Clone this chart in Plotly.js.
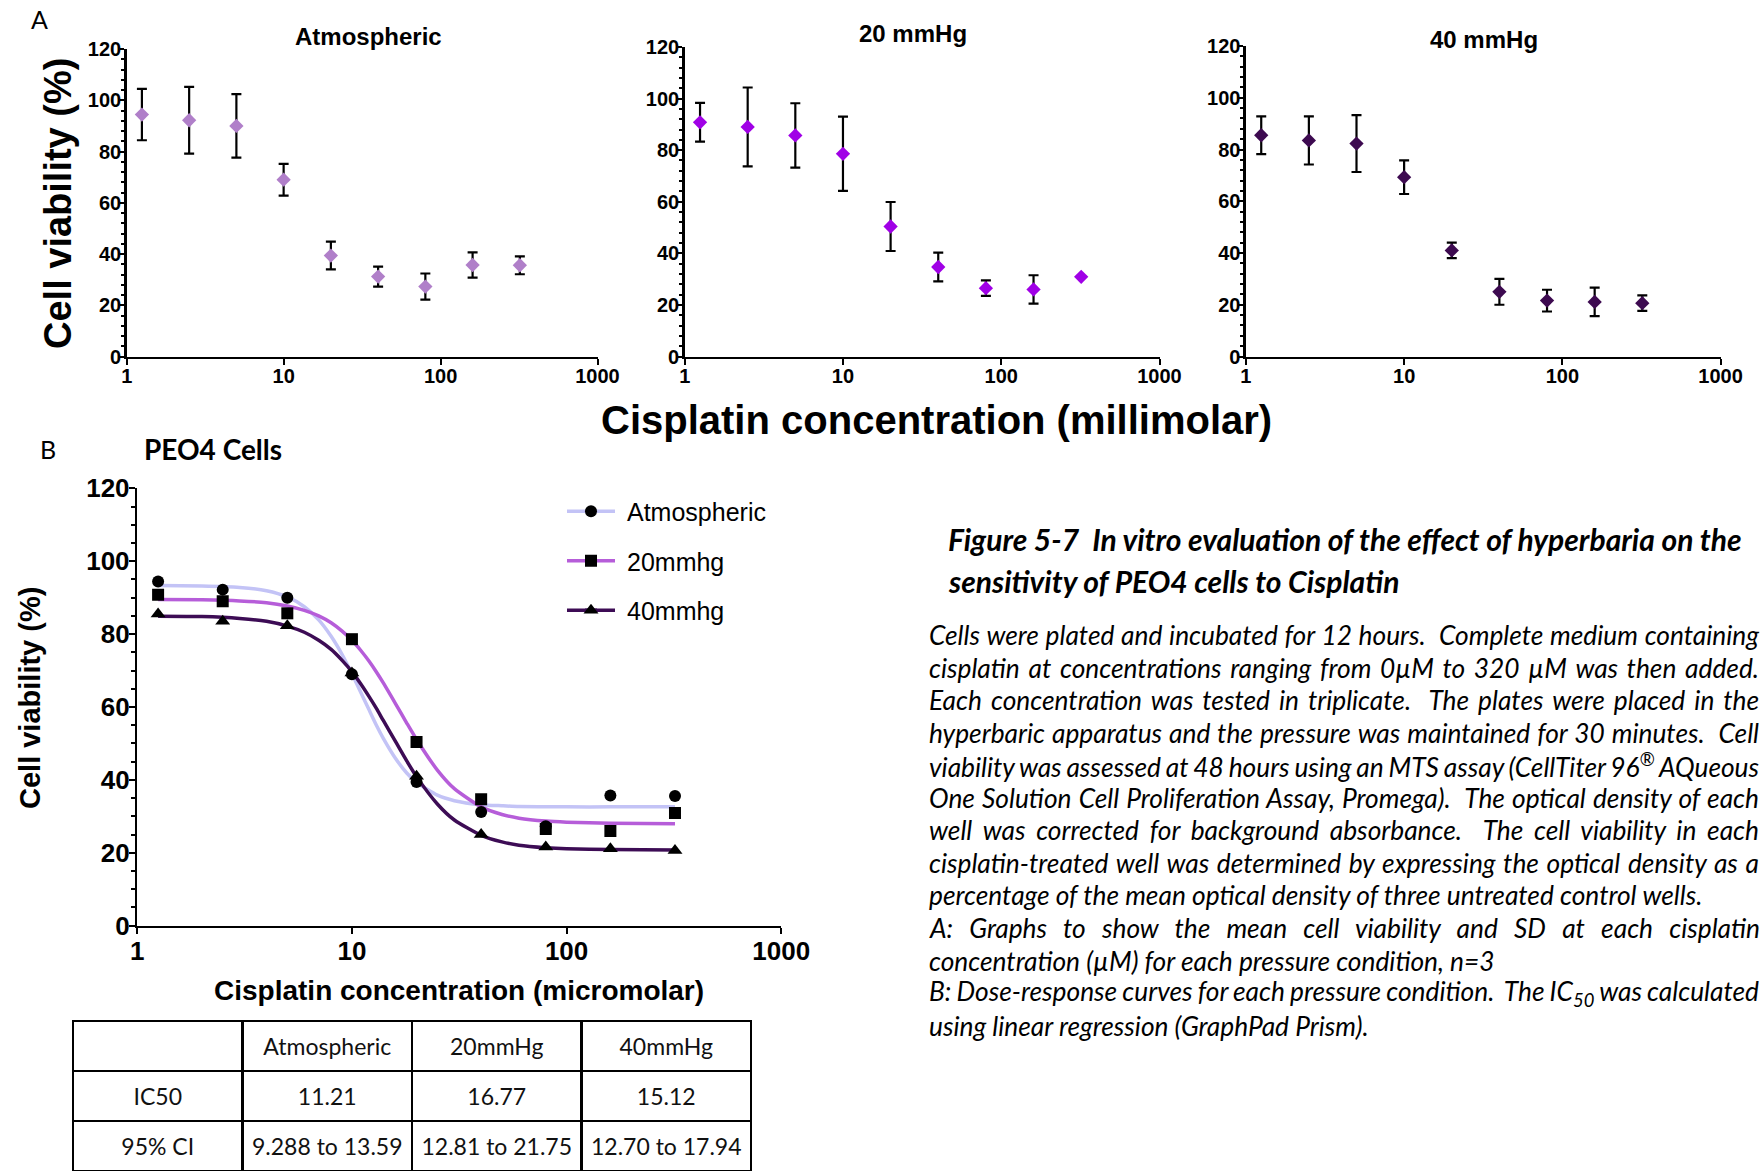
<!DOCTYPE html>
<html><head><meta charset="utf-8">
<script src="https://cdn.plot.ly/plotly-3.0.1.min.js"></script>
<style>html,body{margin:0;padding:0;background:#fff;} #chart{width:1760px;height:1172px;}
#chart text.cell-text{transform:translateY(9px);}</style>
</head><body><div id="chart"></div>
<script>
// ---------- data ----------
const conc = [1.25, 2.5, 5, 10, 20, 40, 80, 160, 320];
const atmMean = [94.4, 92.2, 90.0, 69.0, 39.4, 31.2, 27.3, 35.7, 35.6];
const atmSD   = [10.0, 13.0, 12.4, 6.2, 5.4, 3.9, 5.1, 4.9, 3.5];
const mm20Mean = [90.8, 89.0, 85.7, 78.6, 50.4, 34.7, 26.5, 26.0, 30.9];
const mm20SD   = [7.5, 15.3, 12.5, 14.4, 9.5, 5.6, 3.0, 5.5, null];
const mm40Mean = [85.5, 83.5, 82.3, 69.3, 41.0, 25.0, 21.6, 21.1, 20.6];
const mm40SD   = [7.3, 9.3, 11.0, 6.5, 3.0, 5.0, 4.2, 5.5, 3.0];

// fitted dose-response curves
const curveX = [1.25, 2, 3, 4, 5, 6, 7, 8, 9, 10, 11, 12, 13, 14, 16, 18, 20, 25, 30, 40, 50, 60, 80, 100, 160, 320];
const atmCurve  = [93.3, 93.2, 92.8, 91.9, 90.2, 87.5, 83.9, 79.4, 74.4, 69.1, 64.0, 59.3, 55.0, 51.4, 45.8, 41.9, 39.3, 35.8, 34.3, 33.2, 32.9, 32.7, 32.65, 32.6, 32.6, 32.6];
const mm20Curve = [89.5, 89.4, 89.1, 88.6, 87.7, 86.5, 85.0, 83.1, 80.8, 78.3, 75.5, 72.6, 69.6, 66.6, 60.8, 55.6, 51.1, 42.7, 37.6, 32.6, 30.5, 29.5, 28.7, 28.4, 28.1, 28.0];
const mm40Curve = [84.9, 84.8, 84.3, 83.5, 82.2, 80.5, 78.3, 75.8, 72.8, 69.7, 66.3, 62.9, 59.6, 56.3, 50.4, 45.2, 40.9, 33.4, 29.0, 24.8, 23.0, 22.1, 21.4, 21.1, 20.9, 20.8];

const panelTitles = ['Atmospheric', '20 mmHg', '40 mmHg'];
const seriesNames = ['Atmospheric', '20mmhg', '40mmhg'];
const xTickVals = [1, 10, 100, 1000];
const xTickText = ['1', '10', '100', '1000'];

const tableHeader = ['', 'Atmospheric', '20mmHg', '40mmHg'];
const tableRowLabels = ['IC50', '95%\u00a0CI'];
const ic50 = ['11.21', '16.77', '15.12'];
const ci95 = ['9.288\u00a0to\u00a013.59', '12.81\u00a0to\u00a021.75', '12.70\u00a0to\u00a017.94'];

const captionTitle = [
  'Figure 5-7  In vitro evaluation of the effect of hyperbaria on the',
  'sensitivity of PEO4 cells to Cisplatin'
];
const captionBody = [
  'Cells were plated and incubated for 12 hours.  Complete medium containing',
  'cisplatin at concentrations ranging from 0µM to 320 µM was then added.',
  'Each concentration was tested in triplicate.  The plates were placed in the',
  'hyperbaric apparatus and the pressure was maintained for 30 minutes.  Cell',
  'viability was assessed at 48 hours using an MTS assay (CellTiter 96<sup>®</sup> AQueous',
  'One Solution Cell Proliferation Assay, Promega).  The optical density of each',
  'well was corrected for background absorbance.  The cell viability in each',
  'cisplatin-treated well was determined by expressing the optical density as a',
  'percentage of the mean optical density of three untreated control wells.',
  'A: Graphs to show the mean cell viability and SD at each cisplatin',
  'concentration (µM) for each pressure condition, n=3',
  'B: Dose-response curves for each pressure condition.  The IC<sub>50</sub> was calculated',
  'using linear regression (GraphPad Prism).'
];
const justified = [true, true, true, true, true, true, true, true, false, true, false, true, false];

// ---------- styling ----------
const W = 1760, H = 1172;
const ARIAL = "'Liberation Sans', Arial, sans-serif";
const CAL = "Lato, 'Open Sans', sans-serif";
const markerColorsA = ['#b07fc9', '#a000e6', '#3d0a50'];
const curveColors = ['#c3c3f6', '#b65dd9', '#3d0c55'];
const CLEAR = 'rgba(0,0,0,0)';
const px = v => v / W;
const py = v => 1 - v / H;

function xAx(l, r, anchor, fs, so) {
  return {domain: [px(l), px(r)], anchor: anchor, type: 'log', range: [0, 3],
    tickmode: 'array', tickvals: xTickVals, ticktext: xTickText,
    ticks: 'outside', ticklen: 6, tickwidth: 2, tickcolor: 'black', ticklabelstandoff: so,
    showline: true, linecolor: 'black', linewidth: 2.5, showgrid: false, zeroline: false,
    tickfont: {family: ARIAL, size: fs, color: 'black', weight: 'bold'}, fixedrange: true};
}
function yAx(t, b, anchor, fs, minorD, tl, mtl, so) {
  return {domain: [py(b), py(t)], anchor: anchor, range: [0, 120], tick0: 0, dtick: 20,
    ticks: 'outside', ticklen: tl, tickwidth: 2, tickcolor: 'black', ticklabelstandoff: so,
    minor: {dtick: minorD, ticks: 'outside', ticklen: mtl, tickwidth: 2, tickcolor: 'black', showgrid: false},
    showline: true, linecolor: 'black', linewidth: 2.5, showgrid: false, zeroline: false,
    tickfont: {family: ARIAL, size: fs, color: 'black', weight: 'bold'}, fixedrange: true};
}

const meansA = [atmMean, mm20Mean, mm40Mean];
const sdsA = [atmSD, mm20SD, mm40SD];
const traces = [];
['', '2', '3'].forEach((s, i) => {
  traces.push({x: conc, y: meansA[i], xaxis: 'x' + s, yaxis: 'y' + s, type: 'scatter', mode: 'markers',
    marker: {symbol: 'diamond', size: 11, color: markerColorsA[i]},
    error_y: {type: 'data', array: sdsA[i], visible: true, color: 'black', thickness: 2.2, width: 5},
    showlegend: false, hoverinfo: 'skip'});
});
const curvesB = [atmCurve, mm20Curve, mm40Curve];
curvesB.forEach((c, i) => {
  traces.push({x: curveX, y: c, xaxis: 'x4', yaxis: 'y4', type: 'scatter', mode: 'lines',
    line: {color: curveColors[i], width: 3.5, shape: 'spline', smoothing: 0.6},
    name: seriesNames[i], legend: 'legend', legendgroup: 'g' + i, hoverinfo: 'skip'});
});
// legend helpers: extra line segment (to lengthen legend lines) and visible legend labels
curveColors.forEach((col, i) => {
  traces.push({x: [null], y: [null], xaxis: 'x4', yaxis: 'y4', type: 'scatter', mode: 'lines',
    line: {color: col, width: 3.5}, name: seriesNames[i], legend: 'legend3', legendgroup: 'k' + i, hoverinfo: 'skip'});
});
seriesNames.forEach((n, i) => {
  traces.push({x: [null], y: [null], xaxis: 'x4', yaxis: 'y4', type: 'scatter', mode: 'lines',
    line: {color: CLEAR, width: 1}, name: n, legend: 'legend4', legendgroup: 'm' + i, hoverinfo: 'skip'});
});
const symbolsB = ['circle', 'square', 'triangle-up'];
const sizesB = [12, 12, 13];
meansA.forEach((m, i) => {
  traces.push({x: conc, y: m, xaxis: 'x4', yaxis: 'y4', type: 'scatter', mode: 'markers',
    marker: {symbol: symbolsB[i], size: sizesB[i], color: 'black'},
    name: seriesNames[i], legend: 'legend2', legendgroup: 'h' + i, hoverinfo: 'skip'});
});
traces.push({type: 'table', domain: {x: [px(73), px(751)], y: [0, py(1021)]},
  columnwidth: [1, 1, 1, 1],
  header: {values: tableHeader.map(v => [v]), height: 50, align: 'center',
    line: {color: 'black', width: 2.5}, fill: {color: 'white'},
    font: {family: CAL, size: 23, color: '#111'}},
  cells: {values: [tableRowLabels, [ic50[0], ci95[0]], [ic50[1], ci95[1]], [ic50[2], ci95[2]]],
    height: 50, align: 'center', line: {color: 'black', width: 2.5}, fill: {color: 'white'},
    font: {family: CAL, size: 23, color: '#111'}}});

const ann = [];
function A(text, x, y, opts) {
  ann.push(Object.assign({text: text, x: px(x), y: py(y), xref: 'paper', yref: 'paper',
    showarrow: false, xanchor: 'center', yanchor: 'middle'}, opts));
}
A('A', 39, 19, {font: {family: CAL, size: 25, color: 'black'}});
A('B', 48, 449, {font: {family: CAL, size: 25, color: 'black'}});
A('PEO4 Cells', 142, 449, {xanchor: 'left', font: {family: CAL, size: 28, color: 'black', weight: 'bold'}});
A(panelTitles[0], 368, 37, {font: {family: ARIAL, size: 24, color: 'black', weight: 'bold'}});
A(panelTitles[1], 913, 33, {font: {family: ARIAL, size: 24, color: 'black', weight: 'bold'}});
A(panelTitles[2], 1484, 40, {font: {family: ARIAL, size: 24, color: 'black', weight: 'bold'}});
A('Cell viability (%)', 58, 204, {textangle: -90, font: {family: ARIAL, size: 38, color: 'black', weight: 'bold'}});
A('Cisplatin concentration (millimolar)', 937, 420, {font: {family: ARIAL, size: 40, color: 'black', weight: 'bold'}});
A('Cisplatin concentration (micromolar)', 459, 990, {font: {family: ARIAL, size: 28, color: 'black', weight: 'bold'}});
A('Cell viability (%)', 30, 698, {textangle: -90, font: {family: ARIAL, size: 29, color: 'black', weight: 'bold'}});
captionTitle.forEach((t, i) => A(t, 946, 539 + i * 41.5, {xanchor: 'left', align: 'left',
  font: {family: CAL, size: 30, color: 'black', weight: 'bold', style: 'italic'}}));
const bodyStart = ann.length;
captionBody.forEach((t, i) => A(t, 927, 635 + i * 32.55, {xanchor: 'left', align: 'left',
  font: {family: CAL, size: 26.3, color: 'black', style: 'italic'}}));

function leg(xl, color) {
  return {x: px(xl), y: py(488.5), xanchor: 'left', yanchor: 'top', bgcolor: CLEAR,
    font: {family: ARIAL, size: 25, color: color}, tracegroupgap: 14, traceorder: 'grouped'};
}
const layout = {
  width: W, height: H, margin: {l: 0, r: 0, t: 0, b: 0}, paper_bgcolor: 'white', plot_bgcolor: 'white',
  showlegend: true,
  xaxis: xAx(126.7, 597.5, 'y', 20, -6), yaxis: yAx(49, 356.5, 'x', 20, 4, 4, 3, -5),
  xaxis2: xAx(684.7, 1159.5, 'y2', 20, -6), yaxis2: yAx(47, 356.5, 'x2', 20, 4, 4, 3, -5),
  xaxis3: xAx(1245.9, 1720.6, 'y3', 20, -6), yaxis3: yAx(46, 356.5, 'x3', 20, 4, 4, 3, -5),
  xaxis4: xAx(137.3, 781.2, 'y4', 26, -5), yaxis4: yAx(488.3, 925.7, 'x4', 26, 5, 6, 4, -6),
  legend: leg(580, CLEAR),
  legend2: Object.assign(leg(571, CLEAR), {itemsizing: 'trace'}),
  legend3: leg(562, CLEAR),
  legend4: leg(587, 'black'),
  annotations: ann
};

Plotly.newPlot('chart', traces, layout, {staticPlot: true, displayModeBar: false}).then(gd => {
  // justify caption lines (word spacing) like the original
  const target = 830;
  gd.querySelectorAll('.annotation').forEach(g => {
    const k = +g.getAttribute('data-index') - bodyStart;
    if (k >= 0 && k < captionBody.length && justified[k]) {
      const t = g.querySelector('text.annotation-text');
      if (!t) return;
      const l1 = t.getComputedTextLength();
      t.style.wordSpacing = '10px';
      const l2 = t.getComputedTextLength();
      const n = (l2 - l1) / 10;
      t.style.wordSpacing = n > 0 ? ((target - l1) / n) + 'px' : '0px';
    }
  });
});
</script></body></html>
